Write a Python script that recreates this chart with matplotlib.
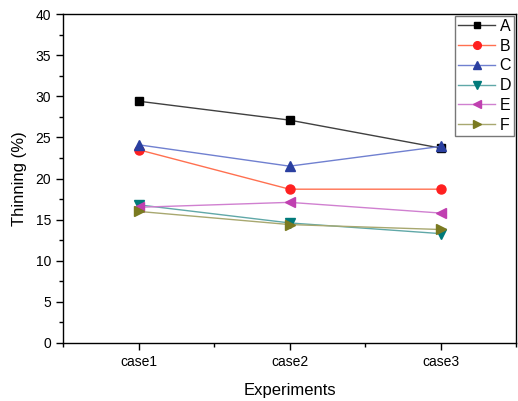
import matplotlib
matplotlib.use("Agg")
import matplotlib.pyplot as plt
from matplotlib.ticker import MultipleLocator

plt.rcParams['font.family'] = ['Liberation Sans', 'DejaVu Sans']

cases = ["case1", "case2", "case3"]
A = [29.4, 27.1, 23.7]
B = [23.5, 18.7, 18.7]
C = [24.1, 21.5, 23.9]
D = [16.8, 14.6, 13.3]
E = [16.5, 17.1, 15.8]
F = [16.0, 14.4, 13.8]
series_names = ["A", "B", "C", "D", "E", "F"]

series = [A, B, C, D, E, F]
markers = ["s", "o", "^", "v", "<", ">"]
msizes = [5.5, 6.5, 7, 7, 7, 7]
mcolors = ["#000000", "#ff2020", "#2a3fa0", "#007a7a", "#c040b0", "#7a7a20"]
lcolors = ["#404040", "#ff7050", "#7080d0", "#60a8a8", "#d080d0", "#a8a870"]

fig = plt.figure(figsize=(5.18, 4.01), dpi=100)
ax = fig.add_axes([63/518, 1-343/401, (516-63)/518, (343-14)/401])
x = [1, 2, 3]
for s, n, m, ms, mc, lc in zip(series, series_names, markers, msizes, mcolors, lcolors):
    ax.plot(x, s, color=lc, lw=1.0, marker=m, markersize=ms,
            markerfacecolor=mc, markeredgecolor=mc, label=n)

ax.set_xlim(0.5, 3.5)
ax.set_ylim(0, 40)
ax.set_xticks(x)
ax.set_xticklabels(cases)
ax.xaxis.set_minor_locator(MultipleLocator(0.5))
ax.yaxis.set_major_locator(MultipleLocator(5))
ax.yaxis.set_minor_locator(MultipleLocator(2.5))
ax.tick_params(axis='both', which='major', direction='out', length=5, width=1, labelsize=10, top=False, right=False)
ax.tick_params(axis='both', which='minor', direction='out', length=3, width=1, top=False, right=False)
for sp in ax.spines.values():
    sp.set_linewidth(1.0)
ax.set_xlabel("Experiments", fontsize=12, labelpad=10)
ax.set_ylabel("Thinning (%)", fontsize=12, labelpad=6)

leg = ax.legend(loc='upper right', fontsize=11.5, frameon=True, fancybox=False,
                edgecolor='#555555', borderaxespad=0.1, handlelength=2.3,
                labelspacing=0.3, borderpad=0.2, handletextpad=0.3, markerscale=0.85)
leg.get_frame().set_linewidth(1.0)

fig.savefig("out.png", dpi=100)
